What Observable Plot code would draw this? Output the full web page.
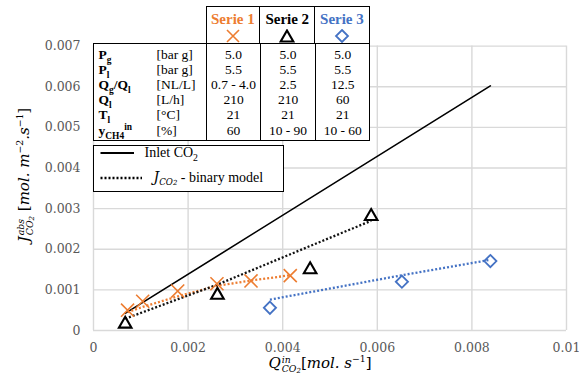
<!DOCTYPE html>
<html>
<head>
<meta charset="utf-8">
<script src="https://cdn.jsdelivr.net/npm/d3@7"></script>
<script src="https://cdn.jsdelivr.net/npm/@observablehq/plot@0.6"></script>
<style>
  html, body { margin: 0; padding: 0; background: #fff; }
  #chart { position: relative; width: 579px; height: 388px; overflow: hidden; }
  #chart > svg { position: absolute; left: 0; top: 0; }
  .box { position: absolute; box-sizing: border-box; background: #fff; border: 1.5px solid #000;
         font-family: "Liberation Serif", "Times New Roman", serif; color: #000; }
  .head { left: 205.5px; top: 5.5px; width: 164px; height: 38.5px; display: flex; }
  .head > div { box-sizing: border-box; text-align: center; font-weight: bold; font-size: 15px; line-height: 15px; padding-top: 5px;
                font-family: "Liberation Serif", "Times New Roman", serif; }
  .head > div + div { border-left: 1.5px solid #000; }
  .head svg { display: block; margin: 2px auto 0; }
  .params { left: 92.5px; top: 42.5px; width: 277px; }
  .params table { border-collapse: collapse; table-layout: fixed; width: 100%; font-size: 13.5px; }
  .params td { padding: 0; line-height: 15.2px; height: 15.2px; white-space: nowrap; }
  .params tr:first-child td { padding-top: 3px; }
  .params tr:last-child td { padding-bottom: 2px; }
  .params td.sym { font-weight: bold; padding-left: 5px; }
  .params td.v { text-align: center; border-left: 1.5px solid #000; }
  .params sub, .params sup { font-size: 70%; line-height: 0; }
  .legend { left: 92.5px; top: 144.5px; width: 191px; height: 47.5px; font-size: 14px; }
  .legend .row { position: absolute; left: 0; white-space: nowrap; }
  .legend svg { position: absolute; left: 0; top: 0; }
  .legend sub { font-size: 70%; line-height: 0; }
  .math { position: absolute; white-space: nowrap; font-family: "DejaVu Serif", serif; font-style: italic;
          font-size: 15px; color: #000; line-height: 1; }
  .math .up { font-style: normal; }
  .ss { display: inline-block; vertical-align: middle; line-height: 1; font-size: 62%; text-align: left; margin-left: 1px; }
  .ss > span { display: block; }
  .ss sub { font-size: 75%; vertical-align: -0.2em; line-height: 0; }
  .math sup { font-size: 62%; line-height: 0; vertical-align: 0.6em; font-style: normal; }
</style>
</head>
<body>
<div id="chart"></div>
<script>
// Axis ticks and their labels
const xTicks = [0, 0.002, 0.004, 0.006, 0.008, 0.01];
const xTickLabels = ["0", "0.002", "0.004", "0.006", "0.008", "0.01"];
const yTicks = [0, 0.001, 0.002, 0.003, 0.004, 0.005, 0.006, 0.007];
const yTickLabels = ["0", "0.001", "0.002", "0.003", "0.004", "0.005", "0.006", "0.007"];

// Serie 1: inlet CO2 flow, measured absorption flux, binary model
const serie1Q = [0.00072, 0.00104, 0.00178, 0.00261, 0.00333, 0.00416];
const serie1J = [0.00050, 0.00072, 0.00097, 0.00115, 0.00122, 0.00135];
const serie1Model = [0.00045, 0.00058, 0.00084, 0.00110, 0.00123, 0.00136];

// Serie 2
const serie2Q = [0.00067, 0.00262, 0.00458, 0.00587];
const serie2J = [0.00016, 0.00087, 0.00150, 0.00281];
const serie2Model = [0.00029, 0.00113, 0.00208, 0.00270];

// Serie 3
const serie3Q = [0.00373, 0.00652, 0.00839];
const serie3J = [0.00056, 0.00120, 0.00171];
const serie3Model = [0.00076, 0.00136, 0.00174];

// Inlet CO2 flux (upper bound)
const inletQ = [0.00067, 0.00839];
const inletJ = [0.00042, 0.00602];

// Operating conditions table
const serieNames = ["Serie 1", "Serie 2", "Serie 3"];
const serieColors = ["#ED7D31", "#000000", "#4472C4"];
const paramSymbols = ["P<sub>g</sub>", "P<sub>l</sub>", "Q<sub>g</sub>/Q<sub>l</sub>", "Q<sub>l</sub>", "T<sub>l</sub>", "y<sub>CH4</sub><sup>in</sup>"];
const paramUnits = ["[bar g]", "[bar g]", "[NL/L]", "[L/h]", "[°C]", "[%]"];
const serie1Params = ["5.0", "5.5", "0.7 - 4.0", "210", "21", "60"];
const serie2Params = ["5.0", "5.5", "2.5", "210", "21", "10 - 90"];
const serie3Params = ["5.0", "5.5", "12.5", "60", "21", "10 - 60"];

const toRows = (qs, js, ms) => qs.map((q, i) => ({q, j: js[i], m: ms ? ms[i] : null}));
const s1 = toRows(serie1Q, serie1J, serie1Model);
const s2 = toRows(serie2Q, serie2J, serie2Model);
const s3 = toRows(serie3Q, serie3J, serie3Model);
const inlet = toRows(inletQ, inletJ);

const grid = "#d9d9d9";
const dotted = {strokeWidth: 2.3, strokeDasharray: "2 2", strokeLinecap: "butt"};

const plot = Plot.plot({
  width: 579,
  height: 388,
  marginLeft: 93,
  marginRight: 13,
  marginTop: 45.6,
  marginBottom: 58,
  style: {fontFamily: "DejaVu Serif, serif", fontSize: "12.5px", color: "#595959", background: "#fff"},
  x: {domain: [0, 0.01]},
  y: {domain: [0, 0.007]},
  marks: [
    Plot.gridX(xTicks, {stroke: grid, strokeOpacity: 1, strokeWidth: 1.4}),
    Plot.gridY(yTicks, {stroke: grid, strokeOpacity: 1, strokeWidth: 1.4}),
    Plot.axisX({ticks: xTicks, tickSize: 0, tickPadding: 13, label: null,
      tickFormat: d => xTickLabels[xTicks.indexOf(d)]}),
    Plot.axisY({ticks: yTicks, tickSize: 0, tickPadding: 13, label: null,
      tickFormat: d => yTickLabels[yTicks.indexOf(d)]}),
    Plot.line(inlet, {x: "q", y: "j", stroke: "#000", strokeWidth: 1.6}),
    Plot.line(s1, {x: "q", y: "m", stroke: serieColors[0], ...dotted}),
    Plot.line(s2, {x: "q", y: "m", stroke: "#111", ...dotted}),
    Plot.line(s3, {x: "q", y: "m", stroke: serieColors[2], ...dotted}),
    Plot.dot(s1, {x: "q", y: "j", symbol: "times", r: 6, stroke: serieColors[0], strokeWidth: 1.6}),
    Plot.dot(s2, {x: "q", y: "j", symbol: "triangle2", r: 6, stroke: "#000", strokeWidth: 2.1}),
    Plot.dot(s3, {x: "q", y: "j", symbol: "diamond2", r: 5.5, stroke: serieColors[2], strokeWidth: 1.8})
  ]
});

const chart = document.getElementById("chart");
chart.appendChild(plot);

// Marker glyphs used in the table header
const markerSvg = [
  `<svg width="14" height="14" viewBox="-7 -7 14 14"><path d="M-6,-6L6,6M6,-6L-6,6" stroke="${serieColors[0]}" stroke-width="1.6" fill="none"/></svg>`,
  `<svg width="16" height="14" viewBox="-8 -7 16 14"><path d="M0,-5.5L6.3,5.5L-6.3,5.5Z" stroke="#000" stroke-width="2.1" fill="none"/></svg>`,
  `<svg width="16" height="14" viewBox="-8 -7 16 14"><path d="M0,-6L6,0L0,6L-6,0Z" stroke="${serieColors[2]}" stroke-width="1.8" fill="none"/></svg>`
];
const widths = [54, 55, 54];
const head = document.createElement("div");
head.className = "box head";
head.innerHTML = serieNames.map((n, i) =>
  `<div style="width:${widths[i] + (i ? 1.5 : 0)}px;color:${serieColors[i]}">${n}${markerSvg[i]}</div>`).join("");
chart.appendChild(head);

const params = document.createElement("div");
params.className = "box params";
params.innerHTML = `<table><colgroup><col style="width:63px"><col style="width:50px"><col style="width:54px"><col style="width:55px"><col style="width:54px"></colgroup><tbody>` +
  paramSymbols.map((s, i) =>
    `<tr><td class="sym">${s}</td><td>${paramUnits[i]}</td><td class="v">${serie1Params[i]}</td><td class="v">${serie2Params[i]}</td><td class="v">${serie3Params[i]}</td></tr>`).join("") +
  `</tbody></table>`;
chart.appendChild(params);

const legend = document.createElement("div");
legend.className = "box legend";
legend.innerHTML = `<svg width="60" height="45">
    <line x1="6.5" x2="40" y1="7" y2="7" stroke="#000" stroke-width="1.8"/>
    <line x1="6.5" x2="48" y1="32" y2="32" stroke="#000" stroke-width="2.3" stroke-dasharray="2 2"/>
  </svg>
  <div class="row" style="left:51px;top:-1px">Inlet CO<sub>2</sub></div>
  <div class="row" style="left:60px;top:23px"><span style="font-family:'DejaVu Serif',serif;font-style:italic">J<sub style="font-size:62%">CO<span style="font-size:80%">2</span></sub></span> - binary model</div>`;
chart.appendChild(legend);

// Axis titles
const xTitle = document.createElement("div");
xTitle.className = "math";
xTitle.style.left = "320px";
xTitle.style.top = "364px";
xTitle.style.transform = "translate(-50%, -50%)";
xTitle.innerHTML = `Q<span class="ss"><span>in</span><span>CO<sub>2</sub></span></span><span class="up">[</span>mol. s<sup>−1</sup><span class="up">]</span>`;
chart.appendChild(xTitle);

const yTitle = document.createElement("div");
yTitle.className = "math";
yTitle.style.left = "25px";
yTitle.style.top = "175px";
yTitle.style.transform = "translate(-50%, -50%) rotate(-90deg)";
yTitle.innerHTML = `J<span class="ss"><span>abs</span><span>CO<sub>2</sub></span></span> <span class="up">[</span>mol. m<sup>−2</sup>.s<sup>−1</sup><span class="up">]</span>`;
chart.appendChild(yTitle);
</script>
</body>
</html>
